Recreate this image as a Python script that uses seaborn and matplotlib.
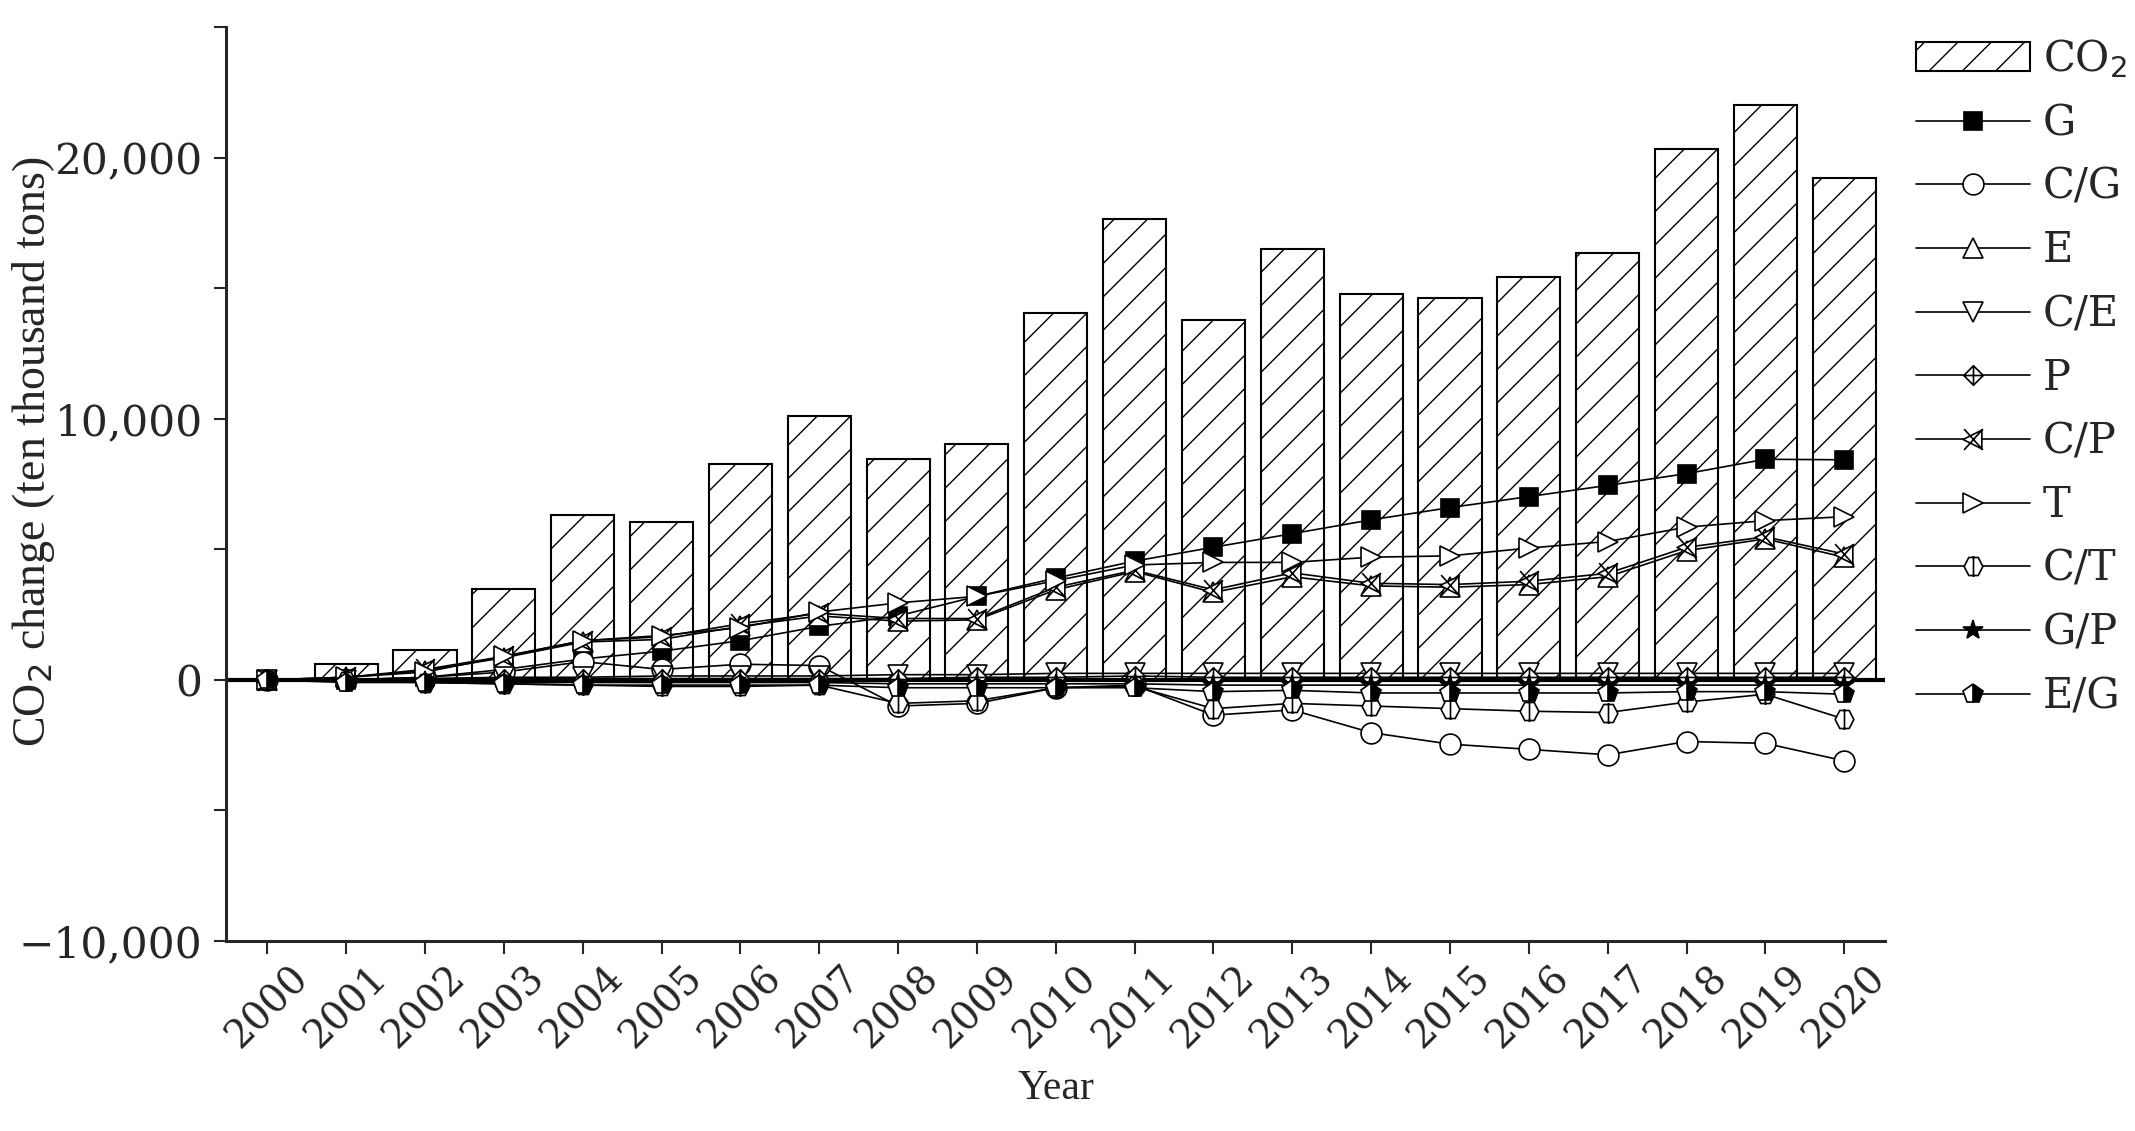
import numpy as np
import pandas as pd
import matplotlib
matplotlib.use("Agg")
import matplotlib.pyplot as plt
import seaborn as sns
from matplotlib.path import Path
from matplotlib.ticker import MultipleLocator, FuncFormatter
from matplotlib.legend_handler import HandlerPatch
import matplotlib.patches as mpatches

# ---- data ----
years = list(range(2000, 2021))

co2 = [0, 600, 1150, 3500, 6330, 6060, 8260, 10090, 8470, 9040, 14060,
       17670, 13800, 16520, 14790, 14640, 15420, 16360, 20330, 22000, 19240]

g = [0, 0, 100, 400, 800, 1100, 1500, 2050, 2450, 3200, 3900,
     4550, 5080, 5600, 6130, 6600, 7020, 7450, 7900, 8450, 8430]
c_g = [0, 0, 100, 300, 700, 400, 600, 550, -1000, -900, -300,
       -200, -1350, -1150, -2020, -2460, -2660, -2870, -2360, -2430, -3100]
e = [0, 100, 350, 850, 1450, 1550, 2050, 2450, 2250, 2300, 3450,
     4150, 3350, 3950, 3600, 3550, 3650, 3950, 4950, 5400, 4700]
c_e = [0, 0, 50, 100, 100, 150, 150, 150, 200, 200, 250,
       250, 250, 250, 250, 250, 250, 250, 250, 250, 250]
p = [0, 0, 0, 50, 50, 50, 50, 50, 50, 100, 100,
     150, 100, 100, 100, 100, 100, 100, 100, 100, 100]
c_p = [0, 100, 400, 900, 1500, 1650, 2150, 2550, 2350, 2350, 3550,
       4200, 3450, 4100, 3700, 3650, 3780, 4080, 5080, 5480, 4820]
t = [0, 100, 300, 900, 1500, 1700, 2000, 2600, 2950, 3200, 3800,
     4400, 4500, 4500, 4700, 4750, 5050, 5300, 5850, 6100, 6250]
c_t = [0, -50, -100, -150, -200, -250, -250, -200, -900, -800, -300,
       -250, -1100, -900, -1000, -1100, -1200, -1250, -850, -550, -1500]
g_p = [0, -50, -50, -100, -100, -100, -100, -100, -150, -150, -150,
       -150, -200, -200, -200, -200, -200, -200, -200, -200, -200]
e_g = [0, -100, -100, -150, -200, -200, -200, -200, -300, -300, -300,
       -300, -450, -400, -500, -500, -500, -500, -450, -450, -550]

series_names = ["G", "C/G", "E", "C/E", "P", "C/P", "T", "C/T", "G/P", "E/G"]
series_vals = [g, c_g, e, c_e, p, c_p, t, c_t, g_p, e_g]

# ---- custom markers ----
def combo_path(verts_closed, extra_segments):
    verts = list(verts_closed) + [verts_closed[0]]
    codes = [Path.MOVETO] + [Path.LINETO] * (len(verts_closed) - 1) + [Path.CLOSEPOLY]
    for a, b in extra_segments:
        verts += [a, b]
        codes += [Path.MOVETO, Path.LINETO]
    return Path(verts, codes)

diamond_plus = combo_path([(0, -1), (1, 0), (0, 1), (-1, 0)],
                          [((0, -1), (0, 1)), ((-1, 0), (1, 0))])
tri_left_x = combo_path([(-1, 0), (0.8, -0.9), (0.8, 0.9)],
                        [((-0.9, -1), (0.9, 1)), ((-0.9, 1), (0.9, -1))])
ang = np.deg2rad(np.arange(0, 360, 60))
hex_bar = combo_path(list(zip(0.9 * np.cos(ang), np.sin(ang))),
                     [((0, -1), (0, 1))])

styles = {
    "G": dict(marker="s", ms=13, mfc="black"),
    "C/G": dict(marker="o", ms=15, mfc="white"),
    "E": dict(marker="^", ms=15, mfc="white"),
    "C/E": dict(marker="v", ms=15, mfc="white"),
    "P": dict(marker=diamond_plus, ms=14, mfc="white"),
    "C/P": dict(marker=tri_left_x, ms=15, mfc="white"),
    "T": dict(marker=">", ms=15, mfc="white"),
    "C/T": dict(marker=hex_bar, ms=15, mfc="white"),
    "G/P": dict(marker="*", ms=15, mfc="black"),
    "E/G": dict(marker="p", ms=15, mfc="black", mfcalt="white", fillstyle="right"),
}

# ---- plot ----
sns.set_style("ticks")
plt.rcParams["font.family"] = ["DejaVu Serif"]
plt.rcParams["hatch.linewidth"] = 1.0
plt.rcParams["axes.unicode_minus"] = True

fig, ax = plt.subplots(figsize=(21.35, 11.31), dpi=100)
fig.subplots_adjust(left=0.106, right=0.883, top=0.976, bottom=0.168)

df_bar = pd.DataFrame({"Year": years, "CO2": co2})
sns.barplot(data=df_bar, x="Year", y="CO2", native_scale=True, width=0.8,
            color="white", edgecolor="black", linewidth=1.5, hatch="/",
            ax=ax, label="CO$_2$", zorder=1)

ax.axhline(0, color="black", lw=3, zorder=2)

for name, vals in zip(series_names, series_vals):
    st = styles[name]
    sns.lineplot(x=years, y=vals, ax=ax, color="black", lw=1.2,
                 markeredgecolor="black", markeredgewidth=1.2,
                 label=name, zorder=3, **st)

ax.set_xlim(1999.48, 2020.52)
ax.set_ylim(-10000, 25000)
ax.set_xticks(years)
ax.set_xticklabels([str(y) for y in years], rotation=45, ha="center",
                   fontsize=28)
ax.yaxis.set_major_locator(MultipleLocator(10000))
ax.yaxis.set_minor_locator(MultipleLocator(5000))
ax.yaxis.set_major_formatter(FuncFormatter(
    lambda v, pos: f"{v:,.0f}".replace("-", "\u2212")))
ax.tick_params(axis="y", labelsize=30.5, pad=8)
ax.tick_params(axis="x", pad=4)
ax.tick_params(which="both", direction="out", length=9, width=1.5)

sns.despine(ax=ax)
for s in ["left", "bottom"]:
    ax.spines[s].set_linewidth(2.2)

ax.set_xlabel("Year", fontsize=30, family="Liberation Serif", labelpad=10)
ax.set_ylabel("CO$_2$ change (ten thousand tons)", fontsize=33,
              family="Liberation Serif")
ax.yaxis.set_label_coords(-0.102, 0.535)


def tall_rect(legend, orig_handle, xdescent, ydescent, width, height, fontsize):
    return mpatches.Rectangle((-xdescent, -ydescent - 0.45 * height),
                              width, height * 1.9)


handles, labels = ax.get_legend_handles_labels()
# bars first, as in the reference legend
order = [labels.index("CO$_2$")] + [i for i, l in enumerate(labels) if l != "CO$_2$"]
handles = [handles[i] for i in order]
labels = [labels[i] for i in order]
leg = ax.legend(handles, labels, loc="upper left", bbox_to_anchor=(1.012, 1.0),
                frameon=False, fontsize=30, handlelength=2.75,
                handletextpad=0.3, labelspacing=0.52, borderpad=0.25,
                borderaxespad=0,
                handler_map={mpatches.Rectangle: HandlerPatch(patch_func=tall_rect)})

fig.savefig("out.png", dpi=100)
